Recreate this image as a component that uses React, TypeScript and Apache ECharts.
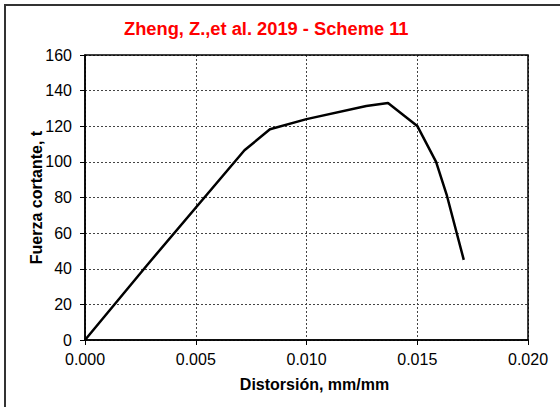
import React, { useEffect, useRef } from "react";
import * as echarts from "echarts";

const titleText = "Zheng, Z.,et al. 2019 - Scheme 11";
const xName = "Distorsión, mm/mm";
const yName = "Fuerza cortante, t";
const distortion = [0, 0.0028, 0.0072, 0.00835, 0.0100, 0.0127, 0.01368, 0.0150, 0.01585, 0.01634, 0.0171];
const force = [0, 42, 106.5, 118.3, 124, 131.4, 133, 120.2, 100, 81, 45];

export default function App() {
  const ref = useRef<HTMLDivElement>(null);
  useEffect(() => {
    document.body.style.margin = "0";
    const chart = echarts.init(ref.current!, null, { renderer: "svg" });
    const font = "'Liberation Sans', Arial, sans-serif";
    chart.setOption({
      animation: false,
      title: {
        text: titleText,
        left: 119,
        top: 14,
        textStyle: { color: "#ff0000", fontSize: 18.3, fontWeight: "bold", fontFamily: font },
      },
      grid: { left: 85, right: 32, top: 55, bottom: 67 },
      xAxis: {
        type: "value",
        min: 0,
        max: 0.02,
        interval: 0.005,
        name: xName,
        nameLocation: "middle",
        nameGap: 36,
        nameMoveOverlap: false,
        nameTextStyle: { color: "#000", fontSize: 16, fontWeight: "bold", fontFamily: font, padding: [0, 0, 0, 16] },
        axisLine: { show: true, lineStyle: { color: "#000", width: 1.5 } },
        axisTick: { show: true, length: 5, lineStyle: { color: "#000" } },
        axisLabel: { color: "#000", fontSize: 16, fontFamily: font, margin: 11, formatter: (v: number) => v.toFixed(3) },
        splitLine: { show: true, lineStyle: { color: "#444", type: [2, 2], width: 1 } },
      },
      yAxis: {
        type: "value",
        min: 0,
        max: 160,
        interval: 20,
        name: yName,
        nameLocation: "middle",
        nameGap: 41,
        nameMoveOverlap: false,
        nameTextStyle: { color: "#000", fontSize: 16, fontWeight: "bold", fontFamily: font },
        axisLine: { show: true, lineStyle: { color: "#000", width: 1.5 } },
        axisTick: { show: true, length: 5, lineStyle: { color: "#000" } },
        axisLabel: { color: "#000", fontSize: 16, fontFamily: font, margin: 13 },
        splitLine: { show: true, lineStyle: { color: "#444", type: [2, 2], width: 1 } },
      },
      graphic: [
        {
          type: "rect",
          shape: { x: 85, y: 55, width: 443, height: 285 },
          style: { fill: "none", stroke: "#000", lineWidth: 1.5 },
          silent: true,
          z: 10,
        },
      ],
      series: [
        {
          type: "line",
          data: distortion.map((d, i) => [d, force[i]]),
          showSymbol: false,
          symbol: "none",
          lineStyle: { color: "#000", width: 2.5 },
        },
      ],
    });
    return () => chart.dispose();
  }, []);
  return (
    <div style={{ width: 560, height: 407, position: "relative", background: "#fff", overflow: "hidden" }}>
      <div ref={ref} style={{ position: "absolute", left: 0, top: 0, width: 560, height: 407 }} />
      <div style={{ position: "absolute", left: 4, top: 4, width: 600, height: 450, borderTop: "2px solid #333", borderLeft: "2px solid #333", pointerEvents: "none" }} />
    </div>
  );
}
